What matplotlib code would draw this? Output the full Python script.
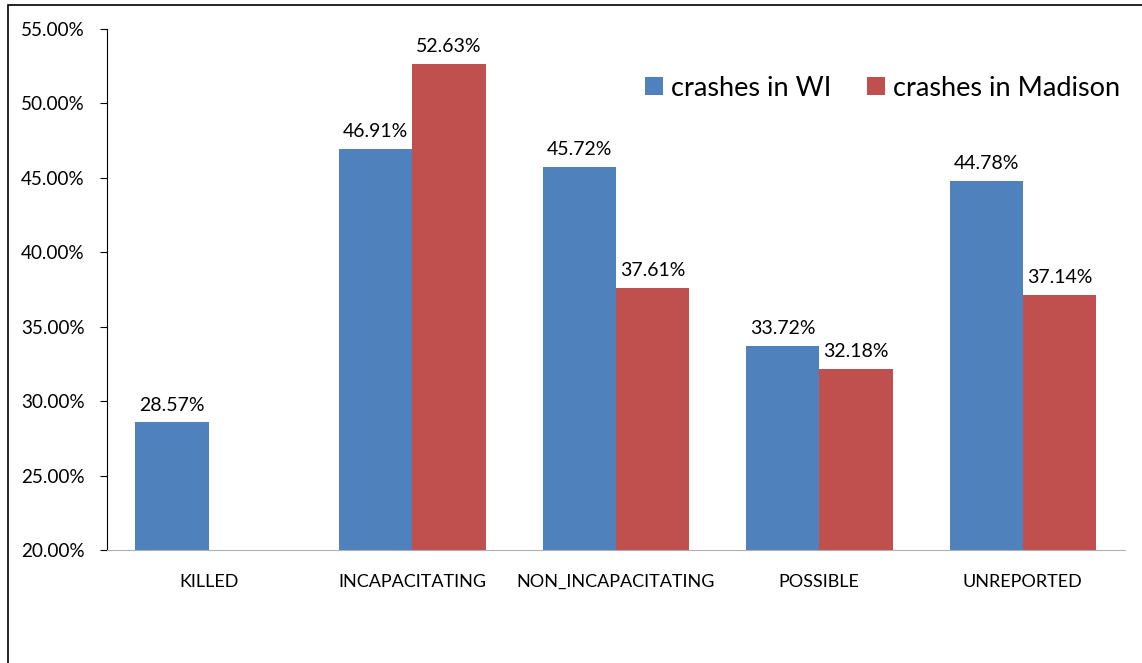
import matplotlib.pyplot as plt
import numpy as np
from matplotlib.patches import Rectangle
from matplotlib.ticker import FuncFormatter

plt.rcParams['font.family'] = ['Lato', 'DejaVu Sans']

categories = ['KILLED', 'INCAPACITATING', 'NON_INCAPACITATING', 'POSSIBLE', 'UNREPORTED']
wi_pct = [28.57, 46.91, 45.72, 33.72, 44.78]
madison_pct = [None, 52.63, 37.61, 32.18, 37.14]

blue = '#4f81bd'
red = '#c0504d'

fig = plt.figure(figsize=(11.42, 6.63), dpi=100)
ax = fig.add_axes([0.0937, 0.1704, 0.891, 0.7859])

# outer chart frame (right/bottom edges run off the image)
fig.patches.append(Rectangle((8 / 1142, -0.1), 1.2, (658 / 663) + 0.1,
                             transform=fig.transFigure, fill=False,
                             edgecolor='black', linewidth=1.2))

x = np.arange(len(categories))
w = 0.36
wi_bars = ax.bar(x - w / 2, wi_pct, w, color=blue, label='crashes in WI')
mad_x = [i for i, v in zip(x, madison_pct) if v is not None]
mad_v = [v for v in madison_pct if v is not None]
mad_bars = ax.bar(np.array(mad_x) + w / 2, mad_v, w, color=red, label='crashes in Madison')

for bars in (wi_bars, mad_bars):
    for b in bars:
        h = b.get_height()
        ax.text(b.get_x() + b.get_width() / 2, h + 0.6, f'{h:.2f}%',
                ha='center', va='bottom', fontsize=14)

ax.set_xlim(-0.5, len(categories) - 0.5)
ax.set_ylim(20, 55)
ax.set_yticks(np.arange(20, 55.1, 5))
ax.yaxis.set_major_formatter(FuncFormatter(lambda v, p: f'{v:.2f}%'))
ax.set_xticks(x)
ax.set_xticklabels(categories)
ax.tick_params(axis='x', length=0, pad=17, labelsize=13)
ax.tick_params(axis='y', direction='out', length=5, pad=11, labelsize=13.6)

for s in ('top', 'right'):
    ax.spines[s].set_visible(False)
ax.spines['left'].set_color('black')
ax.spines['bottom'].set_color('#b0b0b0')

ax.legend(loc='center right', bbox_to_anchor=(0.9956, 0.886), ncol=2, frameon=False,
          fontsize=19.5, handlelength=0.65, handleheight=0.65, handletextpad=0.3,
          columnspacing=1.33, borderaxespad=0.0, borderpad=0.0)

fig.savefig('out.png', dpi=100)
